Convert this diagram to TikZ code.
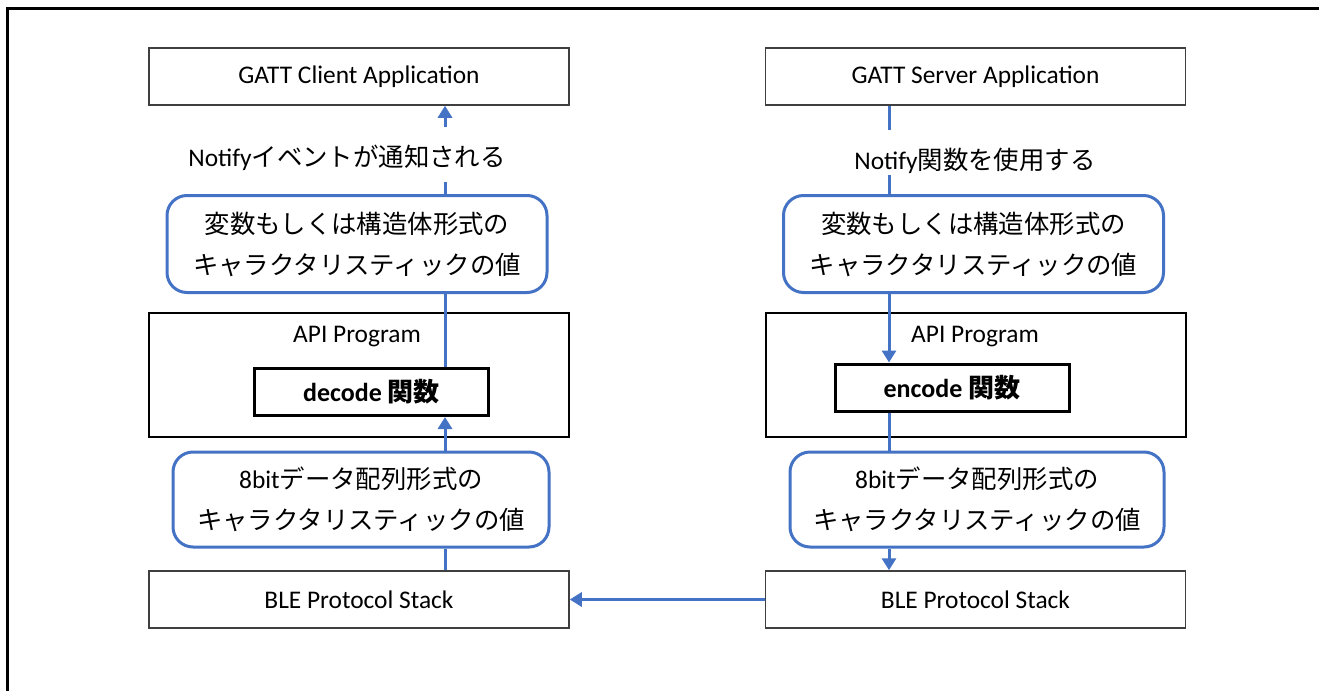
\documentclass[tikz,border=0pt]{standalone}
\usepackage{fontspec}
\setmainfont{Carlito}
\newfontfamily\jp{Noto Sans CJK JP}
\usepackage{tikz}
\usetikzlibrary{shapes,arrows.meta}
\definecolor{lineblue}{HTML}{4472C4}
\definecolor{boxgray}{HTML}{3F3F3F}

\begin{document}
\begin{tikzpicture}[x=0.5pt,y=-0.5pt,font=\fontsize{12.7}{20.5}\selectfont]
    \tikzstyle{appbox}=[rectangle,draw=boxgray,line width=0.75pt,minimum width=210pt,minimum height=28.5pt]
    \tikzstyle{apibox}=[rectangle,draw=black,line width=1pt,minimum width=210pt,minimum height=62pt]
    \tikzstyle{funcbox}=[rectangle,draw=black,line width=1.5pt,minimum width=117pt,minimum height=23.5pt,font=\fontsize{13}{15}\selectfont\bfseries]
    \tikzstyle{valbox}=[rectangle,rounded corners=10pt,draw=lineblue,line width=1.5pt,minimum width=190pt,minimum height=48.5pt,align=center]
    \tikzstyle{notetext}=[inner sep=0pt,anchor=base,text height=19.8pt]
    \tikzstyle{wire}=[draw=lineblue,line width=1.5pt]
    \tikzstyle{wirearr}=[wire,-{Triangle[length=6pt,width=7pt]}]

    \useasboundingbox (0,0) rectangle (1319,691);
    \draw [line width=1.5pt] (7,691) -- (7,8) -- (1319,8);

    % client side
    \node(capp) [appbox] at (359,76.5) {GATT Client Application};
    \node(cnote) [notetext,text depth=7.7pt] at (347,166.6) {Notify{\jp イベントが通知される}};
    \node(cval) [valbox] at (357,244) {{\jp 変数もしくは構造体形式の}\\{\jp キャラクタリスティックの値}};
    \node(capi) [apibox] at (359,375) {};
    \node(capitxt) at (357,337) {API Program};
    \node(cdec) [funcbox] at (371.5,392) {decode {\jp 関数}};
    \node(cbit) [valbox,minimum width=188pt,minimum height=47.5pt] at (361,499.5) {8bit{\jp データ配列形式の}\\{\jp キャラクタリスティックの値}};
    \node(cble) [appbox] at (359,599.5) {BLE Protocol Stack};

    % server side
    \node(sapp) [appbox] at (975.5,76.5) {GATT Server Application};
    \node(snote) [notetext,text depth=2.7pt] at (975,169.6) {Notify{\jp 関数を使用する}};
    \node(sval) [valbox] at (973.5,244) {{\jp 変数もしくは構造体形式の}\\{\jp キャラクタリスティックの値}};
    \node(sapi) [apibox] at (975.5,375) {};
    \node(sapitxt) at (975,337) {API Program};
    \node(senc) [funcbox] at (952,387.5) {encode {\jp 関数}};
    \node(sbit) [valbox,minimum width=187pt,minimum height=47.5pt] at (977,499.5) {8bit{\jp データ配列形式の}\\{\jp キャラクタリスティックの値}};
    \node(sble) [appbox] at (975.5,599.5) {BLE Protocol Stack};

    \coordinate (cx) at (445,0);
    \coordinate (sx) at (889,0);

    \draw [wire] (cx |- cble.north) -- (cx |- cbit.south);
    \draw [wirearr] (cx |- cbit.north) -- (cx |- cdec.south);
    \draw [wire] (cx |- cdec.north) -- (cx |- cval.south);
    \draw [wire] (cx |- cval.north) -- (cx |- cnote.south);
    \draw [wirearr] (cx |- cnote.north) -- (cx |- capp.south);

    \draw [wire] (sx |- sapp.south) -- (sx |- snote.north);
    \draw [wire] (sx |- snote.south) -- (sx |- sval.north);
    \draw [wirearr] (sx |- sval.south) -- (sx |- senc.north);
    \draw [wire] (sx |- senc.south) -- (sx |- sbit.north);
    \draw [wirearr] (sx |- sbit.south) -- (sx |- sble.north);

    \draw [wirearr] (sble.west) -- (cble.east);

\end{tikzpicture}
\end{document}
